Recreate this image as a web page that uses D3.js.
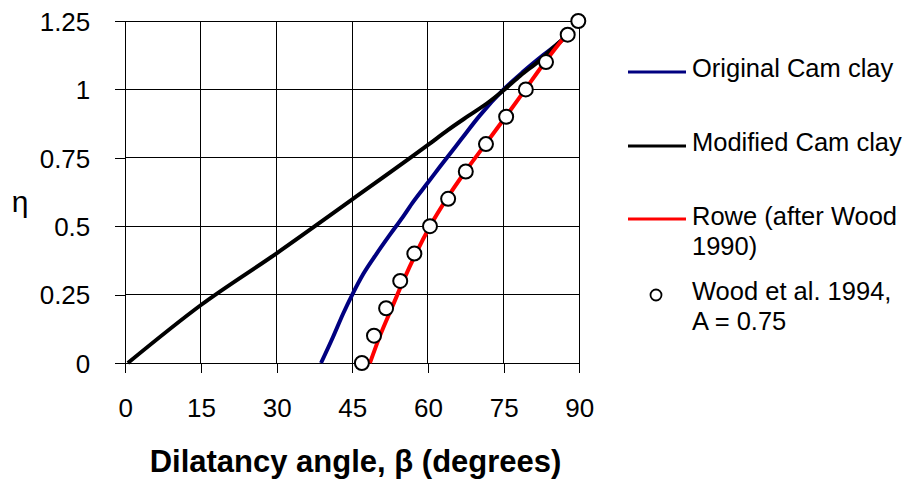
<!DOCTYPE html>
<html>
<head>
<meta charset="utf-8">
<script src="https://cdn.jsdelivr.net/npm/d3@7"></script>
<style>
  body { margin: 0; background: #fff; }
  svg text { font-family: Arial, "Liberation Sans", sans-serif; fill: #000; }
</style>
</head>
<body>
<div id="chart"></div>
<script>
// values: eta against dilatancy angle beta (degrees)
const betaTicks = [0, 15, 30, 45, 60, 75, 90];
const etaTicks = [0, 0.25, 0.5, 0.75, 1, 1.25];

const occBeta = [38.8, 41.2, 43.2, 45.0, 47.2, 49.8, 52.5, 55.0, 57.1, 59.8, 62.4, 66.4, 70.3, 75.0, 78.9, 82.9, 86.2, 87.3];
const occEta  = [0, 0.096, 0.181, 0.250, 0.326, 0.399, 0.470, 0.533, 0.590, 0.655, 0.718, 0.813, 0.905, 1.0, 1.065, 1.126, 1.174, 1.192];

const mccBeta = [0.5, 15, 30, 45, 60, 64, 68, 72, 75.0, 78.3, 82.2, 85.0, 87.3];
const mccEta  = [0, 0.212, 0.401, 0.598, 0.797, 0.852, 0.903, 0.953, 0.997, 1.05, 1.107, 1.155, 1.192];

const roweBeta = [48.5, 50.5, 52.8, 55.1, 57.6, 60.4, 63.7, 67.4, 71.4, 75.4, 79.3, 83.2, 87.2];
const roweEta  = [0, 0.1, 0.2, 0.3, 0.4, 0.5, 0.6, 0.7, 0.8, 0.9, 1.0, 1.1, 1.195];

const woodBeta = [46.9, 49.3, 51.7, 54.5, 57.3, 60.4, 64.0, 67.5, 71.5, 75.5, 79.4, 83.4, 87.7, 89.8];
const woodEta  = [0, 0.1, 0.2, 0.3, 0.4, 0.5, 0.6, 0.7, 0.8, 0.9, 1.0, 1.1, 1.2, 1.25];

const legendNames = ["Original Cam clay", "Modified Cam clay", ["Rowe (after Wood", "1990)"], ["Wood et al. 1994,", "A = 0.75"]];

const W = 909, H = 482;
const PLOT = { left: 125.3, right: 579.3, top: 21, bottom: 363 };

var svg = d3.select("#chart").append("svg")
	.attr("width", W)
	.attr("height", H);

var x = d3.scaleLinear().domain([0, 90]).range([PLOT.left, PLOT.right]);
var y = d3.scaleLinear().domain([0, 1.25]).range([PLOT.bottom, PLOT.top]);

function zip(xs, ys) {
	return xs.map(function(v, i) { return [v, ys[i]]; });
}

// grid
var grid = svg.append("g").attr("shape-rendering", "crispEdges");
grid.selectAll(".vgrid").data(betaTicks.slice(1))
	.enter().append("line")
	.attr("x1", function(d) { return x(d); })
	.attr("x2", function(d) { return x(d); })
	.attr("y1", y(0)).attr("y2", y(1.25))
	.attr("stroke", "#000").attr("stroke-width", 1);
grid.selectAll(".hgrid").data(etaTicks.slice(1))
	.enter().append("line")
	.attr("y1", function(d) { return y(d); })
	.attr("y2", function(d) { return y(d); })
	.attr("x1", x(0)).attr("x2", x(90))
	.attr("stroke", "#000").attr("stroke-width", 1);

// axes
var xAxis = svg.append("g")
	.attr("transform", "translate(0," + y(0) + ")")
	.call(d3.axisBottom(x).tickValues(betaTicks).tickSize(10).tickSizeOuter(0).tickFormat(d3.format("d")));
xAxis.selectAll("text").attr("y", 0).attr("dy", 0).attr("transform", "translate(0,54)");

var yAxis = svg.append("g")
	.attr("transform", "translate(" + x(0) + ",0)")
	.call(d3.axisLeft(y).tickValues(etaTicks).tickSize(10).tickSizeOuter(0).tickFormat(function(d) { return String(d); }));
yAxis.selectAll("text").attr("x", -35).attr("dy", "0.36em");

[xAxis, yAxis].forEach(function(a) {
	a.attr("shape-rendering", "crispEdges");
	a.select(".domain").attr("stroke", "#000");
	a.selectAll(".tick line").attr("stroke", "#000");
	a.selectAll("text").style("font-size", "26px").attr("fill", "#000");
});

// axis titles
svg.append("text")
	.attr("x", 355.5).attr("y", 472)
	.attr("text-anchor", "middle")
	.style("font-size", "31px").style("font-weight", "bold")
	.text("Dilatancy angle, \u03b2 (degrees)");

svg.append("text")
	.attr("x", 20).attr("y", 212)
	.attr("text-anchor", "middle")
	.style("font-size", "30px")
	.text("\u03b7");

// curves
var line = d3.line()
	.x(function(d) { return x(d[0]); })
	.y(function(d) { return y(d[1]); })
	.curve(d3.curveMonotoneX);

var series = [
	{ pts: zip(occBeta, occEta), color: "#000080" },
	{ pts: zip(mccBeta, mccEta), color: "#000000" },
	{ pts: zip(roweBeta, roweEta), color: "#ff0000" }
];

svg.selectAll(".curve").data(series)
	.enter().append("path")
	.attr("class", "curve")
	.attr("d", function(d) { return line(d.pts); })
	.attr("fill", "none")
	.attr("stroke", function(d) { return d.color; })
	.attr("stroke-width", 4)
	.attr("stroke-linejoin", "round");

svg.selectAll(".wood").data(zip(woodBeta, woodEta))
	.enter().append("circle")
	.attr("class", "wood")
	.attr("cx", function(d) { return x(d[0]); })
	.attr("cy", function(d) { return y(d[1]); })
	.attr("r", 7)
	.attr("fill", "#fff")
	.attr("stroke", "#000")
	.attr("stroke-width", 2);

// legend
var legend = svg.append("g");
var legY = [72, 146, 219];
series.forEach(function(s, i) {
	legend.append("line")
		.attr("x1", 628).attr("x2", 686)
		.attr("y1", legY[i]).attr("y2", legY[i])
		.attr("stroke", s.color).attr("stroke-width", 3);
});
legend.append("circle")
	.attr("cx", 656).attr("cy", 295).attr("r", 5.5)
	.attr("fill", "#fff").attr("stroke", "#000").attr("stroke-width", 1.8);

var legText = [
	{ lines: [legendNames[0]], y: 77 },
	{ lines: [legendNames[1]], y: 151 },
	{ lines: legendNames[2], y: 225 },
	{ lines: legendNames[3], y: 300 }
];
legText.forEach(function(t) {
	var txt = legend.append("text")
		.attr("x", 692).attr("y", t.y)
		.style("font-size", "25.5px");
	t.lines.forEach(function(l, j) {
		txt.append("tspan")
			.attr("x", 692)
			.attr("dy", j === 0 ? 0 : 30)
			.text(l);
	});
});
</script>
</body>
</html>
